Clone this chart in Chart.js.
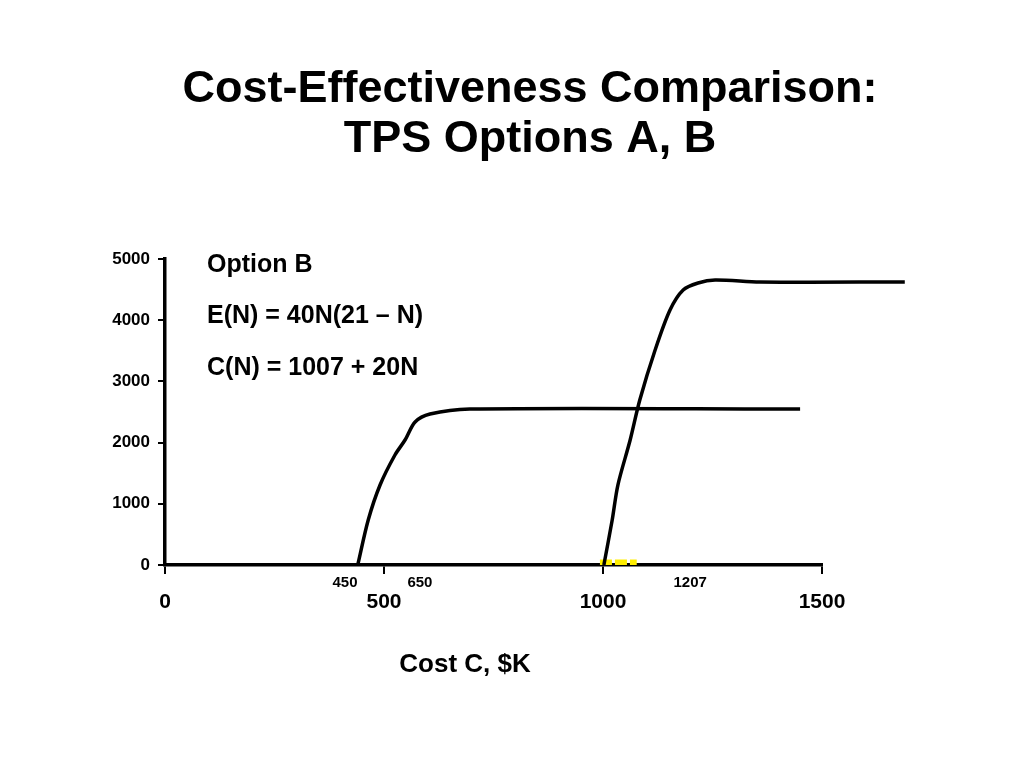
<!DOCTYPE html>
<html>
<head>
<meta charset="utf-8">
<script src="https://cdn.jsdelivr.net/npm/chart.js@4/dist/chart.umd.min.js"></script>
<style>
  html, body { margin: 0; padding: 0; background: #fff; }
  #wrap { width: 1024px; height: 768px; }
</style>
</head>
<body>
<div id="wrap"><canvas id="c" width="1024" height="768"></canvas></div>
<script>
// option A curve (cost, effectiveness)
const costA = [440, 464, 491, 525, 548, 571, 605, 696, 1450];
const effA  = [0, 735, 1307, 1797, 2042, 2337, 2467, 2549, 2549];
// option B curve
const costB = [1002, 1021, 1034, 1062, 1084, 1119, 1153, 1183, 1217, 1256, 1358, 1689];
const effB  = [0, 735, 1307, 2042, 2696, 3513, 4167, 4494, 4608, 4657, 4624, 4624];
// yellow highlight on the axis
const markCost = [993, 1077];
const markEff = [0, 0];
// small labels under the axis
const noteLabels = ["450", "650", "1207"];
const notePos = [411, 582, 1199];
const xTicks = [0, 500, 1000, 1500];
const yTicks = [0, 1000, 2000, 3000, 4000, 5000];
const titleLines = ["Cost-Effectiveness Comparison:", "TPS Options A, B"];
const noteText = ["Option B", "E(N) = 40N(21 \u2013 N)", "C(N) = 1007 + 20N"];

const pts = (xs, ys) => xs.map((x, i) => ({ x, y: ys[i] }));
const FONT = "'Liberation Sans', Arial, sans-serif";

const textPlugin = {
  id: "texts",
  afterDraw(chart) {
    const ctx = chart.ctx;
    const xs = chart.scales.x;
    ctx.save();
    ctx.fillStyle = "#000";
    ctx.textAlign = "center";
    ctx.textBaseline = "middle";
    ctx.font = "bold 45px " + FONT;
    ctx.fillText(titleLines[0], 530, 90);
    ctx.fillText(titleLines[1], 530, 140);
    ctx.font = "bold 26px " + FONT;
    ctx.fillText("Cost C, $K", 465, 665);
    ctx.font = "bold 25px " + FONT;
    ctx.textAlign = "left";
    ctx.fillText(noteText[0], 207, 265);
    ctx.fillText(noteText[1], 207, 316);
    ctx.fillText(noteText[2], 207, 368);
    ctx.textAlign = "center";
    ctx.font = "bold 15px " + FONT;
    noteLabels.forEach((t, i) => ctx.fillText(t, xs.getPixelForValue(notePos[i]), 583));
    ctx.restore();
  }
};

new Chart(document.getElementById("c"), {
  type: "line",
  data: {
    datasets: [
      { data: pts(markCost, markEff), borderColor: "#ffee00", borderWidth: 11, borderDash: [12, 3], pointRadius: 0, order: 3 },
      { data: pts(costA, effA), borderColor: "#000", borderWidth: 3.5, pointRadius: 0, tension: 0.3, clip: false, order: 1 },
      { data: pts(costB, effB), borderColor: "#000", borderWidth: 3.5, pointRadius: 0, tension: 0.3, clip: false, order: 2 }
    ]
  },
  options: {
    responsive: false,
    animation: false,
    layout: { padding: { top: 259, right: 202, left: 0, bottom: 0 } },
    plugins: { legend: { display: false }, tooltip: { enabled: false } },
    scales: {
      x: {
        type: "linear", min: 0, max: 1500,
        afterBuildTicks: s => { s.ticks = xTicks.map(v => ({ value: v })); },
        afterFit: s => { s.height = 203; },
        border: { color: "#000", width: 3.5 },
        grid: { drawOnChartArea: false, color: "#000", lineWidth: 2, tickLength: 9 },
        ticks: { color: "#000", font: { family: FONT, size: 21, weight: "bold" }, padding: 16, callback: v => String(v) }
      },
      y: {
        min: 0, max: 5000,
        afterBuildTicks: s => { s.ticks = yTicks.map(v => ({ value: v })); },
        afterFit: s => { s.width = 165; },
        border: { color: "#000", width: 3.5 },
        grid: { drawOnChartArea: false, color: "#000", lineWidth: 2, tickLength: 7 },
        ticks: { color: "#000", font: { family: FONT, size: 17, weight: "bold" }, padding: 8, callback: v => String(v) }
      }
    }
  },
  plugins: [textPlugin]
});
</script>
</body>
</html>
